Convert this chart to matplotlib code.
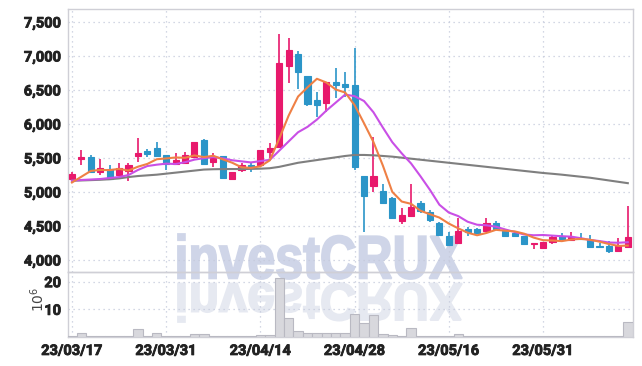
import numpy as np
import matplotlib
matplotlib.use('Agg')
import matplotlib.pyplot as plt
import matplotlib.patheffects as pe
from matplotlib.textpath import TextPath
from matplotlib.patches import PathPatch
from matplotlib.font_manager import FontProperties
from matplotlib.transforms import Affine2D, IdentityTransform
from matplotlib.ticker import FuncFormatter

# ---- dados ----
aberturas = [5190, 5480, 5520, 5300, 5335, 5245, 5310, 5535, 5600, 5650,
             5545, 5410, 5420, 5520, 5765, 5445, 5530, 5195, 5325, 5395,
             5397, 5595, 5665, 6855, 7030, 6705, 6350, 6305, 6615, 6590,
             6575, 5235, 5095, 5015, 4915, 4575, 4650, 4835, 4710, 4550,
             4355, 4245, 4450, 4455, 4425, 4540, 4425, 4395, 4355, 4230,
             4180, 4270, 4355, 4295, 4320, 4295, 4210, 4205, 4135, 4195]
maximas = [5300, 5620, 5545, 5480, 5400, 5420, 5420, 5790, 5630, 5735,
           5550, 5570, 5590, 5735, 5775, 5570, 5530, 5295, 5420, 5430,
           5620, 5715, 7320, 7270, 7075, 6710, 6475, 6620, 6820, 6770,
           7115, 5240, 5815, 5115, 4930, 4760, 5115, 4870, 4735, 4560,
           4415, 4615, 4490, 4475, 4615, 4580, 4430, 4415, 4355, 4255,
           4265, 4370, 4395, 4405, 4395, 4370, 4255, 4280, 4320, 4795]
minimas = [5180, 5400, 5290, 5250, 5180, 5230, 5165, 5445, 5520, 5530,
           5325, 5390, 5405, 5495, 5410, 5370, 5200, 5180, 5300, 5300,
           5390, 5495, 5660, 6610, 6515, 6265, 6105, 6170, 6380, 6400,
           5325, 4415, 5005, 4840, 4610, 4530, 4645, 4685, 4565, 4365,
           4215, 4240, 4355, 4390, 4420, 4445, 4355, 4335, 4230, 4160,
           4175, 4230, 4305, 4290, 4295, 4190, 4170, 4110, 4130, 4190]
fechamentos = [5260, 5520, 5290, 5350, 5190, 5350, 5400, 5570, 5555, 5535,
               5410, 5470, 5545, 5730, 5415, 5505, 5210, 5295, 5395, 5370,
               5618, 5650, 6890, 7090, 6770, 6295, 6280, 6615, 6575, 6550,
               5370, 4945, 5235, 4845, 4615, 4660, 4775, 4725, 4590, 4370,
               4220, 4425, 4405, 4400, 4540, 4450, 4360, 4355, 4230, 4255,
               4260, 4335, 4310, 4345, 4305, 4195, 4195, 4135, 4205, 4335]

media_5 = [5140, 5225, 5310, 5325, 5322, 5340, 5316, 5372, 5413, 5482,
           5494, 5508, 5503, 5538, 5514, 5533, 5481, 5431, 5364, 5355,
           5378, 5466, 5785, 6124, 6404, 6539, 6665, 6610, 6507, 6463,
           6278, 6011, 5735, 5389, 5002, 4860, 4826, 4724, 4673, 4624,
           4536, 4466, 4402, 4364, 4398, 4444, 4431, 4421, 4387, 4330,
           4292, 4287, 4278, 4301, 4311, 4298, 4270, 4235, 4207, 4213]
media_10 = [5166, 5177, 5184, 5191, 5206, 5220, 5250, 5324, 5382, 5402,
            5417, 5412, 5438, 5476, 5498, 5514, 5495, 5467, 5451, 5435,
            5455, 5473, 5608, 5744, 5879, 5958, 6065, 6197, 6315, 6433,
            6409, 6338, 6173, 5948, 5733, 5569, 5419, 5230, 5031, 4813,
            4698, 4646, 4563, 4519, 4511, 4490, 4449, 4412, 4376, 4364,
            4368, 4359, 4350, 4344, 4321, 4295, 4279, 4257, 4254, 4262]
media_longa = [5166, 5170, 5175, 5180, 5188, 5200, 5220, 5235, 5245, 5255,
               5270, 5285, 5300, 5315, 5330, 5335, 5337, 5338, 5338, 5340,
               5343, 5350, 5370, 5400, 5430, 5450, 5470, 5490, 5510, 5530,
               5545, 5545, 5540, 5530, 5520, 5505, 5490, 5475, 5460, 5445,
               5430, 5415, 5400, 5385, 5370, 5355, 5340, 5325, 5310, 5295,
               5280, 5268, 5255, 5240, 5225, 5210, 5190, 5170, 5150, 5130]
volume = [0.3, 1.6, 0.2, 0.2, 0.2, 0.2, 0.2, 3.0, 0.3, 1.6,
          0.3, 0.3, 0.4, 1.2, 1.2, 0.3, 0.3, 0.3, 0.2, 0.4,
          0.8, 0.8, 21.4, 7.0, 2.0, 1.3, 1.3, 1.6, 1.3, 1.3,
          8.2, 5.2, 7.8, 1.2, 0.6, 0.3, 3.4, 0.5, 0.3, 0.3,
          0.4, 1.2, 0.4, 0.3, 0.5, 0.4, 0.4, 0.3, 0.2, 0.4,
          0.2, 0.2, 0.3, 0.2, 0.2, 0.2, 0.4, 0.2, 0.4, 5.6]

posicoes_datas = [0, 10, 20, 30, 40, 50]
rotulos_datas = ['23/03/17', '23/03/31', '23/04/14', '23/04/28', '23/05/16', '23/05/31']
ticks_preco = [4000, 4500, 5000, 5500, 6000, 6500, 7000, 7500]
ticks_volume = [10, 20]

# ---- estilo ----
cor_alta = '#e8196c'
cor_baixa = '#2b95c8'
cor_grade = '#c5cadc'
cor_borda = '#cfcfd6'
fonte_ticks = ['Roboto', 'DejaVu Sans']

fig = plt.figure(figsize=(6.42, 3.66), dpi=100)
ax = fig.add_axes([68/642, 1-272/366, 565/642, 263/366])
ax_vol = fig.add_axes([68/642, 1-337/366, 565/642, 65/366], sharex=ax)
for a in (ax, ax_vol):
    a.set_facecolor('none')
    for s in a.spines.values():
        s.set_color(cor_borda)
        s.set_linewidth(1.0)
    a.grid(True, linestyle=(0, (1, 3)), color=cor_grade, linewidth=0.9)
    a.tick_params(length=0, labelsize=10.5, colors='#222222', pad=5)

# marca d'agua com reflexo
def marca(x0, y0, largura, altura, cor, espelhar=False):
    fp = FontProperties(family='Liberation Sans', weight='bold')
    tp = TextPath((0, 0), 'investCRUX', size=100, prop=fp)
    ext = tp.get_extents()
    sx = largura / ext.width
    sy = altura / ext.height
    tr = Affine2D().translate(-ext.x0, -ext.y0).scale(sx, sy)
    if espelhar:
        tr = tr.scale(1, -1)
    tr = tr.translate(x0, y0)
    p = PathPatch(tr.transform_path(tp), facecolor=cor, edgecolor=cor,
                  linewidth=1.3, transform=IdentityTransform(), zorder=-5)
    fig.patches.append(p)

marca(178, 366-279, 284, 45, '#cfd5e8')
marca(178, 366-283, 284, 39, '#e6e9f1', espelhar=True)

x = np.arange(len(fechamentos))
abre = np.array(aberturas)
fecha = np.array(fechamentos)
cores = np.where(fecha >= abre, cor_alta, cor_baixa)
base = np.minimum(abre, fecha)
altura = np.maximum(np.abs(fecha - abre), 10)

ax.vlines(x, minimas, maximas, colors=cores, linewidth=1.2, zorder=3)
ax.bar(x, altura, bottom=base, width=0.65, color=cores, edgecolor=cores,
       linewidth=0.8, zorder=4)

ax.plot(x, media_longa, color='#7f7f7f', linewidth=1.5, zorder=5)
ax.plot(x, media_10, color='#c94fe6', linewidth=1.5, zorder=5)
ax.plot(x, media_5, color='#ef8045', linewidth=1.5, zorder=6)

ax.set_ylim(3824, 7691)
ax.set_yticks(ticks_preco)
ax.yaxis.set_major_formatter(FuncFormatter(lambda v, p: f'{v:,.0f}'))
ax.set_xlim(-0.42, 59.55)
ax.set_xticks(posicoes_datas)
plt.setp(ax.get_xticklabels(), visible=False)

ax_vol.bar(x, volume, width=1.0, color='#d8d8dd', edgecolor='#b9b9c2',
           linewidth=0.8, zorder=3)
ax_vol.set_ylim(0, 23.5)
ax_vol.set_yticks(ticks_volume)
ax_vol.set_xticks(posicoes_datas)
ax_vol.set_xticklabels(rotulos_datas)
ax_vol.set_ylabel(r'$10^6$', fontsize=10, color='#444444')
ax_vol.yaxis.set_label_coords(-0.037, 0.58)

contorno = [pe.withStroke(linewidth=0.6, foreground='#222222')]
for lab in ax.get_yticklabels() + ax_vol.get_yticklabels() + ax_vol.get_xticklabels():
    lab.set_family(fonte_ticks)
    lab.set_fontweight('bold')
    lab.set_path_effects(contorno)

fig.savefig('out.png', dpi=100)
